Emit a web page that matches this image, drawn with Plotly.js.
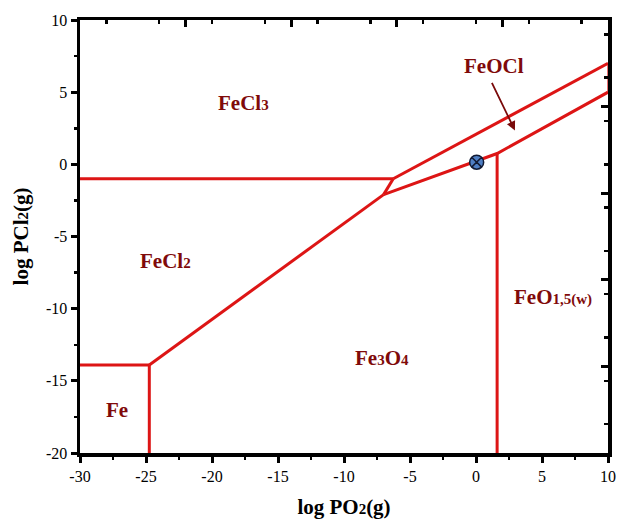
<!DOCTYPE html>
<html><head><meta charset="utf-8">
<script src="https://cdn.plot.ly/plotly-3.0.1.min.js"></script>
<style>body{margin:0;background:#fff}#plot{width:618px;height:521px}</style>
</head><body><div id="plot"></div>
<script>
// Phase boundaries (log PO2, log PCl2)
const feFeCl2X = [-30, -24.75],  feFeCl2Y = [-13.9, -13.9];
const feFe3O4X = [-24.75, -24.75], feFe3O4Y = [-13.9, -20];
const fecl2Fe3o4X = [-24.75, -7.0], fecl2Fe3o4Y = [-13.9, -2.1];
const fecl2Fecl3X = [-30, -6.27], fecl2Fecl3Y = [-1, -1];
const kinkX = [-7.0, -6.27], kinkY = [-2.1, -1];
const fecl3FeoclX = [-6.27, 10], fecl3FeoclY = [-1, 7];
const feoclLowerX = [-7.0, 1.6, 10], feoclLowerY = [-2.1, 0.75, 5];
const fe3o4Feo15X = [1.6, 1.6], fe3o4Feo15Y = [0.75, -20];
const rightEdgeX = [10, 10], rightEdgeY = [5, 7];
// Experimental point
const pointX = [0.05], pointY = [0.15];
// Tick labels
const xTickVals = [-30, -25, -20, -15, -10, -5, 0, 5, 10];
const xTickText = ['-30', '-25', '-20', '-15', '-10', '-5', '0', '5', '10'];
const yTickVals = [-20, -15, -10, -5, 0, 5, 10];
const yTickText = ['-20', '-15', '-10', '-5', '0', '5', '10'];
// Phase labels
const labelText = ['FeCl<span style="font-size:15px">3</span>', 'FeCl<span style="font-size:15px">2</span>', 'Fe',
  'Fe<span style="font-size:15px">3</span>O<span style="font-size:15px">4</span>',
  'FeO<span style="font-size:15px">1,5(w)</span>'];
const labelX = [-17.6, -23.5, -27.2, -7.1, 5.85];
const labelY = [4.25, -6.7, -17.0, -13.4, -9.2];

const red = '#dd1515';
function seg(x, y, w, c) {
  return {x: x, y: y, mode: 'lines', type: 'scatter', line: {color: c || red, width: w || 3}, hoverinfo: 'skip', showlegend: false};
}
const traces = [
  seg(feFeCl2X, feFeCl2Y), seg(feFe3O4X, feFe3O4Y), seg(fecl2Fe3o4X, fecl2Fe3o4Y),
  seg(fecl2Fecl3X, fecl2Fecl3Y), seg(kinkX, kinkY), seg(fecl3FeoclX, fecl3FeoclY),
  seg(feoclLowerX, feoclLowerY), seg(fe3o4Feo15X, fe3o4Feo15Y), seg(rightEdgeX, rightEdgeY, 1.2),
  {x: pointX, y: pointY, mode: 'markers', type: 'scatter', showlegend: false,
   marker: {symbol: 'circle-x', size: 14, color: '#4f7fc4', line: {color: '#111a33', width: 1.5}}},
  {x: [0], y: [0], xaxis: 'x2', yaxis: 'y2', mode: 'markers', marker: {opacity: 0}, showlegend: false, hoverinfo: 'skip'}
];

const labelFont = {family: 'Liberation Serif', size: 21, color: '#800a0a'};
const annotations = labelText.map((t, i) => ({
  x: labelX[i], y: labelY[i], xref: 'x', yref: 'y', text: '<b>' + t + '</b>', showarrow: false, font: labelFont
}));
annotations.push({x: 2.95, y: 2.35, ax: 1.15, ay: 5.75, xref: 'x', yref: 'y', axref: 'x', ayref: 'y',
  text: '', showarrow: true, arrowhead: 2, arrowsize: 1, arrowwidth: 1.8, arrowcolor: '#7a0a0a'});
annotations.push({x: 1.36, y: 6.8, xref: 'x', yref: 'y', text: '<b>FeOCl</b>', showarrow: false, font: labelFont});

const tickFont = {family: 'Liberation Serif', size: 16, color: '#000'};
const titleFont = {family: 'Liberation Serif', size: 21, color: '#000'};
const layout = {
  width: 618, height: 521,
  margin: {l: 80, r: 10, t: 20, b: 68},
  paper_bgcolor: '#fff', plot_bgcolor: '#fff',
  showlegend: false,
  xaxis: {range: [-30, 10], tickmode: 'array', tickvals: xTickVals, ticktext: xTickText,
    ticks: 'outside', ticklen: 6, tickwidth: 3, tickcolor: '#000',
    minor: {tickmode: 'linear', tick0: 0, dtick: 2.5, ticks: 'outside', ticklen: 3, tickwidth: 2.5, tickcolor: '#000'},
    showline: true, linewidth: 3.5, linecolor: '#000', showgrid: false, zeroline: false,
    tickfont: tickFont,
    title: {text: '<b>log PO<span style="font-size:15px">2</span>(g)</b>', font: titleFont, standoff: 16}},
  yaxis: {range: [-20, 10], tickmode: 'array', tickvals: yTickVals, ticktext: yTickText,
    ticks: 'outside', ticklen: 6, tickwidth: 3, tickcolor: '#000',
    minor: {tickmode: 'linear', tick0: 0, dtick: 2.5, ticks: 'outside', ticklen: 3, tickwidth: 2.5, tickcolor: '#000'},
    showline: true, linewidth: 3.5, linecolor: '#000', showgrid: false, zeroline: false,
    tickfont: tickFont,
    title: {text: '<b>log PCl<span style="font-size:15px">2</span>(g)</b>', font: titleFont, standoff: 12}},
  xaxis2: {overlaying: 'x', side: 'top', range: [-30, 10], tick0: 10, dtick: 8, ticks: 'inside', ticklen: 7, tickwidth: 3,
    tickcolor: '#000', minor: {dtick: 4, ticks: 'inside', ticklen: 4, tickwidth: 2.5, tickcolor: '#000'},
    showticklabels: false, showline: true, linewidth: 3.5, linecolor: '#000', showgrid: false, zeroline: false},
  yaxis2: {overlaying: 'y', side: 'right', range: [-20, 10], tick0: 4, dtick: 6, ticks: 'inside', ticklen: 7, tickwidth: 3,
    tickcolor: '#000', minor: {dtick: 3, ticks: 'inside', ticklen: 4, tickwidth: 2.5, tickcolor: '#000'},
    showticklabels: false, showline: true, linewidth: 3.5, linecolor: '#000', showgrid: false, zeroline: false},
  annotations: annotations
};
Plotly.newPlot('plot', traces, layout, {displayModeBar: false, staticPlot: true});
</script></body></html>
